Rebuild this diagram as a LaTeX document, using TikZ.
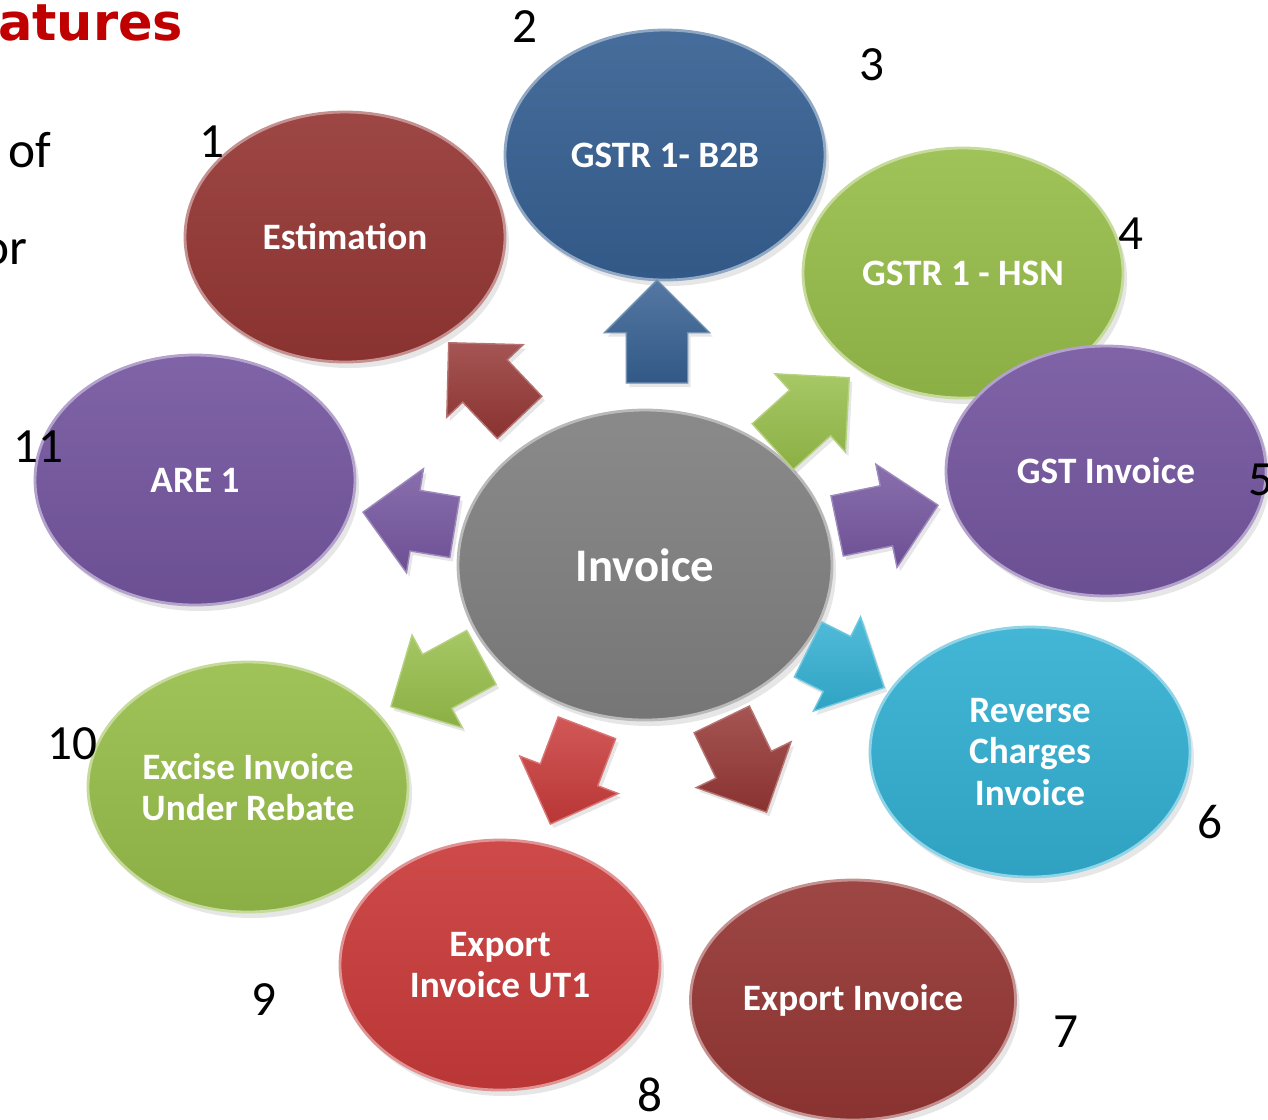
\documentclass[tikz,border=0pt]{standalone}
\usepackage{fontspec}
\setmainfont{Carlito}
\newfontfamily\headfont{DejaVu Sans}
\usetikzlibrary{
    positioning,
    shapes.geometric,
    shapes.arrows,
    shadows,
}

\definecolor{brick}{HTML}{953735}
\definecolor{steel}{HTML}{366092}
\definecolor{leaf}{HTML}{97BE4A}
\definecolor{grape}{HTML}{7556A0}
\definecolor{sky}{HTML}{33B0D3}
\definecolor{scarlet}{HTML}{C93B3A}
\definecolor{slate}{HTML}{808080}
\definecolor{headred}{HTML}{C00000}

\begin{document}
\begin{tikzpicture}[
        bubble/.style={ellipse, inner sep=0pt, minimum width=3.2cm, minimum height=2.5cm,
            top color=#1!92!white, bottom color=#1!92!black, draw=#1!55!white, line width=0.8pt,
            drop shadow={opacity=0.2, shadow xshift=0.04cm, shadow yshift=-0.06cm},
            text=white, align=center, font=\fontsize{10.6}{11.7}\selectfont\bfseries},
        pointer/.style={single arrow, anchor=tip, inner xsep=0pt, inner ysep=0.3cm, minimum height=1.03cm,
            single arrow head extend=0.22cm, single arrow tip angle=90,
            top color=#1!85!white, bottom color=#1!92!black, draw=#1!70!white, line width=0.4pt,
            drop shadow={opacity=0.2, shadow xshift=0.03cm, shadow yshift=-0.04cm}},
        num/.style={inner sep=0pt, font=\fontsize{14}{14}\selectfont},
        side/.style={inner sep=0pt, font=\fontsize{14.6}{14.6}\selectfont},
    ]
        \useasboundingbox (0,0) rectangle (12.68,-11.19);
        \clip (0,0) rectangle (12.68,-11.19);

        % Slide text cut off at the edge
        \node[inner sep=0pt, anchor=base east, text=headred, font=\headfont\fontsize{14.5}{14.5}\selectfont\bfseries] (head) at (1.84,-0.40) {atures};
        \node[side, anchor=base west] (of) at (0.08,-1.67) {of};
        \node[side, anchor=base east] (or) at (0.28,-2.64) {or};

        % Hub
        \node[bubble=slate, minimum width=3.74cm, minimum height=3.1cm,
            font=\fontsize{13.3}{14}\selectfont\bfseries] (inv) at (6.45,-5.65) {Invoice};

        % Satellites
        \node[bubble=brick] (est) at (3.45,-2.37) {Estimation};
        \node[bubble=steel] (b2b) at (6.65,-1.55) {GSTR 1- B2B};
        \node[bubble=leaf] (hsn) at (9.63,-2.73) {GSTR 1 - HSN};
        \node[bubble=grape] (gst) at (11.06,-4.71) {GST Invoice};
        \node[bubble=sky] (rev) at (10.30,-7.52) {Reverse\\Charges\\Invoice};
        \node[bubble=brick, minimum width=3.25cm, minimum height=2.4cm] (exp) at (8.53,-10.00) {Export Invoice};
        \node[bubble=scarlet] (ut1) at (5.00,-9.65) {Export\\Invoice UT1};
        \node[bubble=leaf] (exc) at (2.48,-7.87) {Excise Invoice\\Under Rebate};
        \node[bubble=grape] (are) at (1.95,-4.80) {ARE 1};

        % Block arrows out of the hub (placed by their tips)
        \node[pointer=brick, rotate=133.5] (toest) at (4.48,-3.42) {};
        \node[pointer=steel, rotate=90] (tob2b) at (6.57,-2.79) {};
        \node[pointer=leaf, rotate=42] (tohsn) at (8.50,-3.77) {};
        \node[pointer=grape, rotate=11.6] (togst) at (9.39,-5.05) {};
        \node[pointer=sky, rotate=-26.6, minimum height=0.85cm] (torev) at (8.85,-6.88) {};
        \node[pointer=brick, rotate=-64.2] (toexp) at (7.67,-8.13) {};
        \node[pointer=scarlet, rotate=-110.8] (tout1) at (5.50,-8.25) {};
        \node[pointer=leaf, rotate=208.5] (toexc) at (3.90,-7.07) {};
        \node[pointer=grape, rotate=170.7, minimum height=0.93cm] (toare) at (3.62,-5.12) {};

        % Numbers
        \node[num] (n1) at (2.12,-1.42) {1};
        \node[num] (n2) at (5.25,-0.27) {2};
        \node[num] (n3) at (8.72,-0.65) {3};
        \node[num] (n4) at (11.31,-2.34) {4};
        \node[num, anchor=west] (n5) at (12.48,-4.80) {5};
        \node[num] (n6) at (12.10,-8.22) {6};
        \node[num] (n7) at (10.66,-10.32) {7};
        \node[num] (n8) at (6.50,-10.95) {8};
        \node[num] (n9) at (2.64,-10.00) {9};
        \node[num] (n10) at (0.72,-7.44) {10};
        \node[num] (n11) at (0.38,-4.47) {11};
    \end{tikzpicture}
\end{document}
